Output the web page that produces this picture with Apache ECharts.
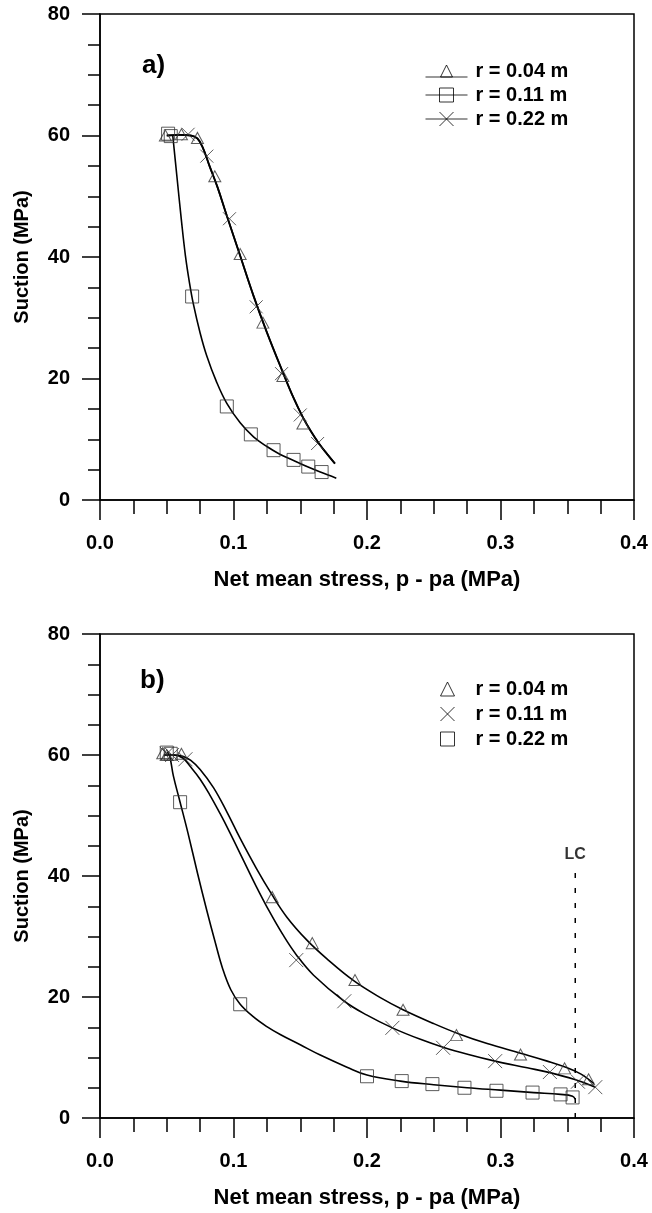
<!DOCTYPE html>
<html>
<head>
<meta charset="utf-8">
<script src="https://cdn.jsdelivr.net/npm/echarts@6/dist/echarts.min.js"></script>
<style>
html,body{margin:0;padding:0;background:#fff;}
#chart{width:652px;height:1213px;}
</style>
</head>
<body>
<div id="chart"></div>
<script>
// ---------- Data ----------
const xTicks = [0.0, 0.1, 0.2, 0.3, 0.4];
const yTicks = [0, 20, 40, 60, 80];

// Panel a) markers
const aR004 = [[0.049,60],[0.061,60.2],[0.073,59.6],[0.086,53.3],[0.105,40.5],[0.122,29.2],[0.137,20.4],[0.152,12.6]];
const aR011 = [[0.051,60.3],[0.053,59.9],[0.069,33.5],[0.095,15.4],[0.113,10.8],[0.130,8.2],[0.145,6.6],[0.156,5.5],[0.166,4.6]];
const aR022 = [[0.066,60.2],[0.080,56.6],[0.097,46.3],[0.117,31.8],[0.136,20.8],[0.150,14.0],[0.163,9.3]];
// Panel a) fitted curves
const aCurve004 = [[0.050,60],[0.060,60.1],[0.068,60],[0.073,59.5],[0.077,58],[0.082,55],[0.088,51.5],[0.095,46.8],[0.105,40.2],[0.115,33.6],[0.125,27.6],[0.137,21],[0.145,16.8],[0.152,13.6],[0.158,11.3],[0.164,9.3],[0.170,7.6],[0.176,6]];
const aCurve022 = [[0.050,60],[0.060,60.1],[0.068,60],[0.073,59.5],[0.077,58],[0.082,55],[0.088,51.5],[0.095,46.8],[0.105,40.2],[0.115,33.6],[0.125,27.6],[0.137,21],[0.145,16.8],[0.152,13.6],[0.158,11.3],[0.164,9.3],[0.170,7.6],[0.176,6]];
const aCurve011 = [[0.0545,60],[0.0575,53.5],[0.061,46],[0.064,40.2],[0.067,35.8],[0.070,32.2],[0.075,27.5],[0.080,23.7],[0.087,19.6],[0.095,15.9],[0.105,12.7],[0.115,10.4],[0.125,8.8],[0.135,7.5],[0.145,6.5],[0.155,5.5],[0.165,4.6],[0.177,3.6]];

// Panel b) markers
const bR004 = [[0.047,60.3],[0.050,60],[0.061,60.2],[0.129,36.5],[0.159,28.9],[0.191,22.8],[0.227,17.9],[0.267,13.7],[0.315,10.5],[0.348,8.2],[0.366,6.4]];
const bR011 = [[0.050,60.2],[0.054,60],[0.064,59.3],[0.147,26.1],[0.183,19.3],[0.219,14.9],[0.257,11.6],[0.296,9.4],[0.337,7.6],[0.358,6.0],[0.371,5.1]];
const bR022 = [[0.050,60.4],[0.053,60.2],[0.060,52.2],[0.105,18.8],[0.200,6.9],[0.226,6.1],[0.249,5.6],[0.273,5.0],[0.297,4.5],[0.324,4.2],[0.345,3.9],[0.354,3.4]];
// Panel b) fitted curves
const bCurve004 = [[0.048,60],[0.055,60],[0.062,59.8],[0.068,59.1],[0.075,57.6],[0.085,54.6],[0.095,50.6],[0.105,46.2],[0.117,41.3],[0.128,37.2],[0.140,33.2],[0.155,29.4],[0.170,26.3],[0.190,22.7],[0.210,19.9],[0.227,17.9],[0.250,15.6],[0.270,13.8],[0.290,12.3],[0.315,10.7],[0.335,9.4],[0.350,8.3],[0.360,7.3],[0.370,5.7]];
const bCurve011 = [[0.048,60],[0.055,60],[0.062,59.5],[0.068,58],[0.075,56],[0.082,53.5],[0.090,50.3],[0.097,47.3],[0.107,42.8],[0.117,38.3],[0.127,34.1],[0.137,30.3],[0.147,27],[0.160,23.6],[0.183,19.3],[0.200,17],[0.219,14.9],[0.240,13],[0.257,11.7],[0.276,10.5],[0.296,9.4],[0.320,8.3],[0.337,7.5],[0.355,6.4],[0.371,5.1]];
const bCurve022 = [[0.050,60.5],[0.052,60],[0.055,56.5],[0.060,52.2],[0.066,47],[0.073,40.5],[0.080,34.3],[0.086,29.3],[0.092,24.6],[0.098,21.2],[0.105,18.8],[0.115,16.7],[0.125,15.1],[0.135,13.8],[0.150,12.1],[0.165,10.4],[0.185,8.4],[0.200,7.1],[0.225,6.1],[0.250,5.5],[0.275,5.0],[0.300,4.6],[0.325,4.2],[0.345,3.9],[0.354,3.6],[0.356,3.1]];
// LC line
const lcX = 0.356;
const lcRange = [0, 40.5];

const seriesNames = ['r = 0.04 m', 'r = 0.11 m', 'r = 0.22 m'];

// ---------- Styles ----------
const FONT = '"Liberation Sans", Arial, Helvetica, sans-serif';
const TRI = 'path://M1,13L7,1L13,13Z';
const SQR = 'path://M0,0L12,0L12,12L0,12Z';
const XMK = 'path://M0,0L12,12M0,12L12,0';
const mk = {color: 'rgba(0,0,0,0)', borderColor: '#333', borderWidth: 1};

function xAxis(gi){
  return {
    gridIndex: gi, type: 'value', min: 0, max: 0.4, interval: 0.1,
    name: 'Net mean stress, p - pa (MPa)', nameLocation: 'middle', nameGap: 69,
    nameTextStyle: {fontFamily: FONT, fontWeight: 'bold', fontSize: 22, color: '#000'},
    axisLine: {show: true, onZero: false, lineStyle: {color: '#000', width: 1.5}},
    axisTick: {show: true, length: 20, lineStyle: {color: '#000', width: 1.5}},
    minorTick: {show: true, splitNumber: 4, length: 14, lineStyle: {color: '#000', width: 1.5}},
    axisLabel: {margin: 33, fontFamily: FONT, fontWeight: 'bold', fontSize: 20, color: '#000',
      formatter: v => xTicks.includes(+v.toFixed(1)) ? v.toFixed(1) : ''},
    splitLine: {show: false}
  };
}
function yAxis(gi){
  return {
    gridIndex: gi, type: 'value', min: 0, max: 80, interval: 20,
    name: 'Suction (MPa)', nameLocation: 'middle', nameGap: 68,
    nameTextStyle: {fontFamily: FONT, fontWeight: 'bold', fontSize: 20, color: '#000'},
    axisLine: {show: true, onZero: false, lineStyle: {color: '#000', width: 1.5}},
    axisTick: {show: true, length: 18, lineStyle: {color: '#000', width: 1.5}},
    minorTick: {show: true, splitNumber: 4, length: 12, lineStyle: {color: '#000', width: 1.5}},
    axisLabel: {margin: 30, fontFamily: FONT, fontWeight: 'bold', fontSize: 20, color: '#000',
      formatter: v => yTicks.includes(v) ? String(v) : ''},
    splitLine: {show: false}
  };
}
function curve(gi, data, w){
  return {type: 'line', xAxisIndex: gi, yAxisIndex: gi, data: data, smooth: 0.4,
    showSymbol: false, symbol: 'none', silent: true,
    lineStyle: {color: '#000', width: w || 1.6}, z: 2};
}
function pts(gi, name, data, symbol, size){
  return {type: 'scatter', name: name, xAxisIndex: gi, yAxisIndex: gi, data: data,
    symbol: symbol, symbolSize: size, itemStyle: mk, z: 3};
}

const legTxt = {fontFamily: FONT, fontWeight: 'bold', fontSize: 20, color: '#000'};
const legIcoStyle = {color: 'rgba(0,0,0,0)', borderColor: '#000', borderWidth: 1};

const option = {
  animation: false,
  backgroundColor: '#fff',
  grid: [
    {left: 100, right: 18, top: 14, height: 486, show: true, borderColor: '#000', borderWidth: 1.5, backgroundColor: 'transparent'},
    {left: 100, right: 18, top: 634, height: 484, show: true, borderColor: '#000', borderWidth: 1.5, backgroundColor: 'transparent'}
  ],
  xAxis: [xAxis(0), xAxis(1)],
  yAxis: [yAxis(0), yAxis(1)],
  legend: [
    {orient: 'vertical', left: 425, top: 61, padding: 0, itemWidth: 42, itemHeight: 14, itemGap: 4,
     selectedMode: false, textStyle: Object.assign({padding: [0,0,0,3]}, legTxt),
     data: [
       {name: seriesNames[0], icon: 'path://M0,14L42,14M15,14L21,2L27,14Z', itemStyle: legIcoStyle},
       {name: seriesNames[1], icon: 'path://M0,7L42,7M14,0L28,0L28,14L14,14Z', itemStyle: legIcoStyle},
       {name: seriesNames[2], icon: 'path://M0,7L42,7M14,0L28,14M14,14L28,0', itemStyle: legIcoStyle}
     ]},
    {orient: 'vertical', left: 440, top: 679, padding: 0, itemWidth: 14, itemHeight: 14, itemGap: 5,
     selectedMode: false, textStyle: Object.assign({padding: [0,0,0,16]}, legTxt),
     data: [
       {name: seriesNames[0], icon: TRI, itemStyle: legIcoStyle},
       {name: seriesNames[1], icon: XMK, itemStyle: legIcoStyle},
       {name: seriesNames[2], icon: SQR, itemStyle: legIcoStyle}
     ]}
  ],
  graphic: [
    {type: 'text', left: 142, top: 53, style: {text: 'a)', fontFamily: FONT, fontWeight: 'bold', fontSize: 26, fill: '#000'}},
    {type: 'text', left: 140, top: 668, style: {text: 'b)', fontFamily: FONT, fontWeight: 'bold', fontSize: 26, fill: '#000'}}
  ],
  series: [
    curve(0, aCurve004, 1.9), curve(0, aCurve022, 1.6), curve(0, aCurve011, 1.6),
    pts(0, seriesNames[0], aR004, TRI, [12, 11]),
    pts(0, seriesNames[1], aR011, SQR, 13),
    pts(0, seriesNames[2], aR022, XMK, 13),
    curve(1, bCurve004), curve(1, bCurve011), curve(1, bCurve022),
    pts(1, seriesNames[0], bR004, TRI, [12, 11]),
    pts(1, seriesNames[1], bR011, XMK, 14),
    pts(1, seriesNames[2], bR022, SQR, 13),
    {type: 'line', xAxisIndex: 1, yAxisIndex: 1, silent: true, symbol: 'none', showSymbol: false,
     data: [[lcX, lcRange[0]], [lcX, lcRange[1]]],
     lineStyle: {color: '#000', width: 1.5, type: [5, 10]}, z: 1},
    {type: 'scatter', xAxisIndex: 1, yAxisIndex: 1, silent: true, symbol: 'circle', symbolSize: 0,
     data: [[lcX, lcRange[1]]],
     label: {show: true, position: 'top', distance: 10, formatter: 'LC',
       fontFamily: FONT, fontWeight: 'bold', fontSize: 16, color: '#000'}}
  ]
};

const chart = echarts.init(document.getElementById('chart'), null, {renderer: 'canvas'});
chart.setOption(option);
</script>
</body>
</html>
